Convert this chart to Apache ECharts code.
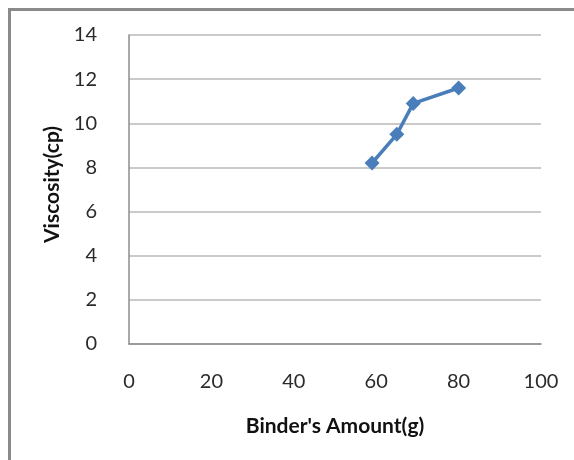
<!DOCTYPE html>
<html>
<head>
<meta charset="utf-8">
<script src="https://cdn.jsdelivr.net/npm/echarts@6/dist/echarts.min.js"></script>
<style>
html,body{margin:0;padding:0;background:#fff;}
#chart{width:574px;height:460px;}
</style>
</head>
<body>
<div id="chart"></div>
<script>
// Binder amount (g) vs. viscosity (cp)
const binderAmount = [59, 65, 69, 80];
const viscosity = [8.2, 9.5, 10.9, 11.6];
const xTicks = [0, 20, 40, 60, 80, 100];
const yTicks = [0, 2, 4, 6, 8, 10, 12, 14];

const chart = echarts.init(document.getElementById('chart'), null, {renderer: 'canvas'});
const font = 'Lato, "Open Sans", sans-serif';

chart.setOption({
  backgroundColor: '#fff',
  animation: false,
  graphic: [{
    type: 'rect',
    shape: {x: 9.5, y: 9.5, width: 600, height: 500},
    style: {fill: 'none', stroke: '#8a8a8a', lineWidth: 3}
  }],
  grid: {left: 129, top: 35, right: 33, bottom: 116},
  xAxis: {
    type: 'value',
    min: xTicks[0], max: xTicks[xTicks.length - 1], interval: 20,
    name: "Binder's Amount(g)",
    nameLocation: 'middle', nameGap: 72,
    nameTextStyle: {fontFamily: font, fontSize: 21, fontWeight: 'bold', color: '#111'},
    axisLine: {show: true, lineStyle: {color: '#8c8c8c', width: 1.5}},
    axisTick: {show: false},
    splitLine: {show: false},
    axisLabel: {fontFamily: font, fontSize: 20, color: '#2a2a2a', margin: 28}
  },
  yAxis: {
    type: 'value',
    min: yTicks[0], max: yTicks[yTicks.length - 1], interval: 2,
    name: 'Viscosity(cp)',
    nameLocation: 'middle', nameGap: 59,
    nameTextStyle: {fontFamily: font, fontSize: 21, fontWeight: 'bold', color: '#111', padding: [0, 0, 0, 10]},
    axisLine: {show: true, lineStyle: {color: '#8c8c8c', width: 1.5}},
    axisTick: {show: false},
    splitLine: {show: true, lineStyle: {color: '#b8b8b8', width: 1.5}},
    axisLabel: {fontFamily: font, fontSize: 20, color: '#2a2a2a', margin: 32}
  },
  series: [{
    type: 'line',
    data: binderAmount.map((x, i) => [x, viscosity[i]]),
    symbol: 'diamond',
    symbolSize: 15,
    lineStyle: {color: '#4a7ebb', width: 3.5},
    itemStyle: {color: '#4a7ebb'}
  }]
});
</script>
</body>
</html>
